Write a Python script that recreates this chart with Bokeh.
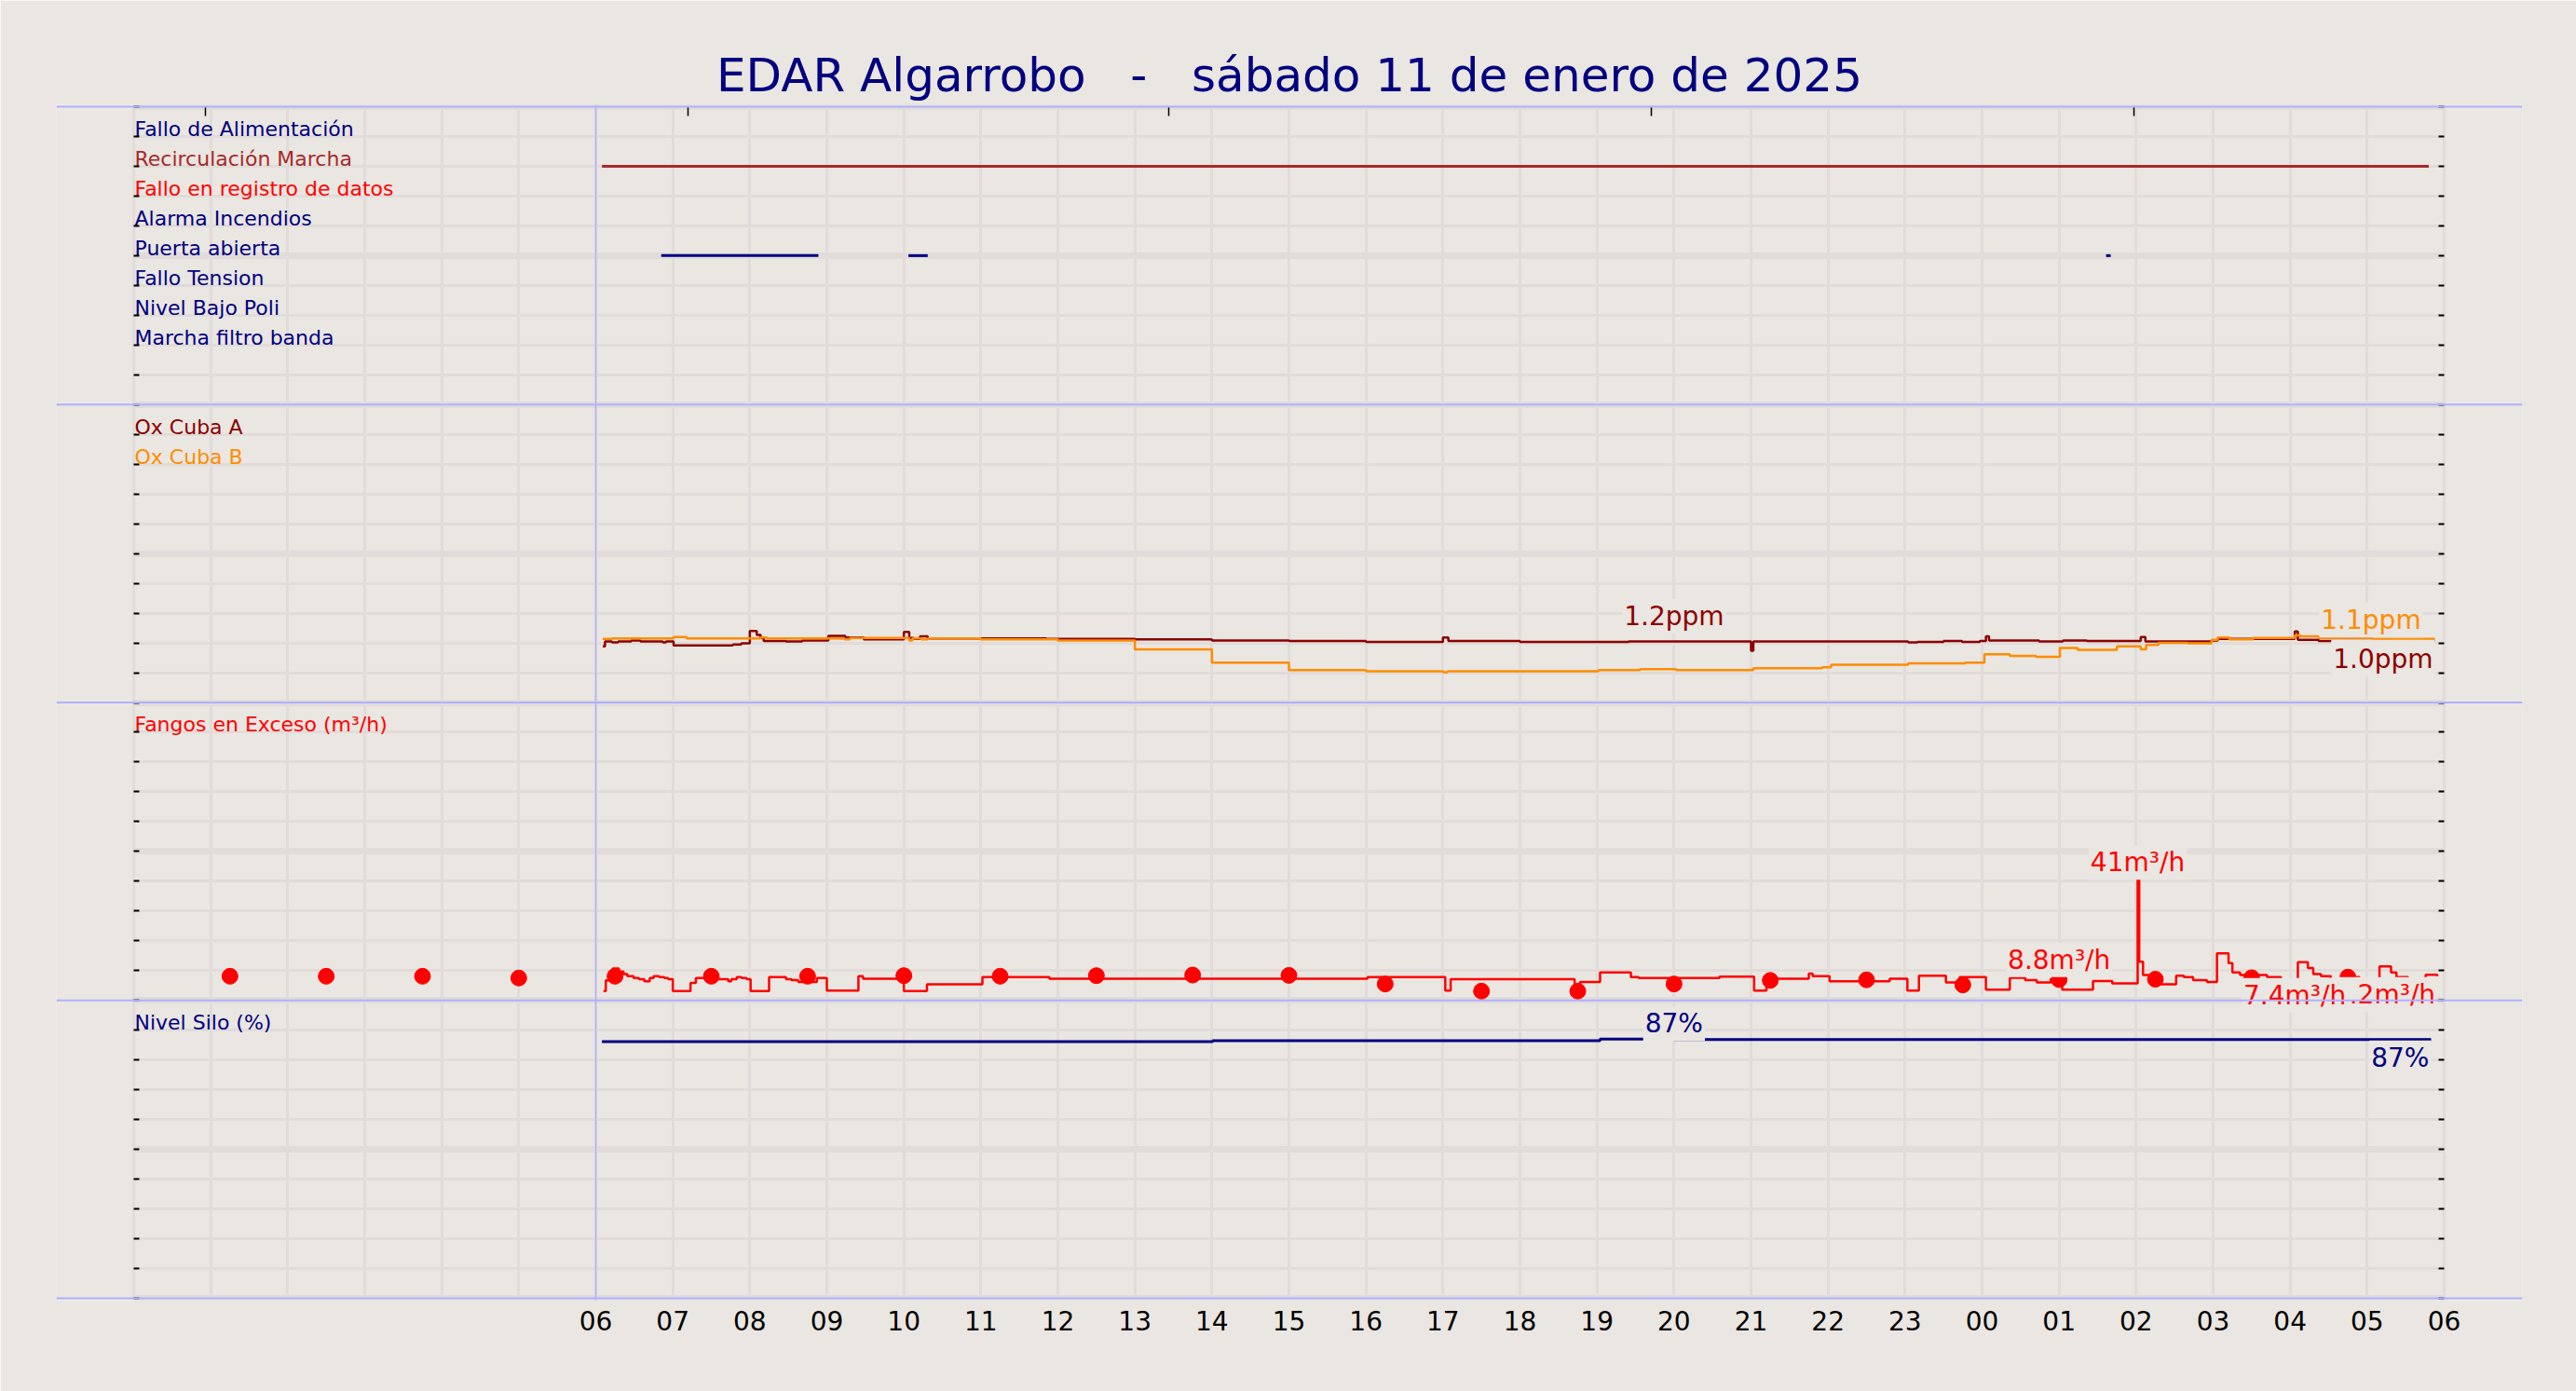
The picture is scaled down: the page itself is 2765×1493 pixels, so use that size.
import numpy as np
from bokeh.plotting import figure
from bokeh.models import Range1d, FixedTicker, LinearAxis, Grid, Span
from bokeh.core.properties import value
from bokeh.embed import file_html
from bokeh.resources import INLINE

FONT = "DejaVu Sans"
BG = "#EAE6E1"
GRID = "#E1DCDA"
SEP = "#B0B0FF"
NAVY = "#000080"

# svg collapses runs of spaces, so the wide gaps are kept with no-break spaces
TITLE = "EDAR Algarrobo \u00a0 - \u00a0 sábado 11 de enero de 2025"

# hours counted from 00:00 of 11/01, the day shown runs 06 -> 06
HOUR_TICKS = list(range(6, 31))
TOP_TICKS = [0.93, 7.2, 13.44, 19.7, 25.97]

# panel 1: digital signals
SIGNAL_NAMES = ["Fallo de Alimentación", "Recirculación Marcha", "Fallo en registro de datos",
                "Alarma Incendios", "Puerta abierta", "Fallo Tension", "Nivel Bajo Poli",
                "Marcha filtro banda"]
SIGNAL_COLORS = [NAVY, "#A52A2A", "#FF0000", NAVY, NAVY, NAVY, NAVY, NAVY]
ON_SIGNAL = ["Recirculación Marcha", "Puerta abierta", "Puerta abierta", "Puerta abierta"]
ON_START = [6.08, 6.85, 10.06, 25.61]
ON_END = [29.8, 8.89, 10.31, 25.67]

# panel 2: oxygen (ppm)
OXA_HOURS = [6.09, 6.12, 6.21, 6.29, 6.46, 6.58, 6.87, 6.91, 7.01, 7.78, 7.89, 8.00, 8.09, 8.14,
             8.18, 8.47, 8.68, 9.02, 9.24, 9.48, 10.00, 10.07, 10.13, 10.21, 10.31, 11.85, 13.0,
             14.0, 15.0, 16.0, 17.0, 17.07, 18.0, 19.41, 21.0, 21.03, 23.04, 23.16, 23.5, 23.74,
             23.97, 24.05, 24.09, 24.74, 25.05, 25.36, 26.06, 26.12, 26.98, 27.06, 28.06, 28.1,
             28.37, 29.07, 29.14, 29.88]
OXA = [1.13, 1.23, 1.21, 1.23, 1.25, 1.23, 1.21, 1.23, 1.15, 1.17, 1.19, 1.44, 1.36, 1.30,
       1.24, 1.23, 1.25, 1.34, 1.31, 1.27, 1.42, 1.30, 1.28, 1.33, 1.29, 1.28, 1.27,
       1.25, 1.24, 1.22, 1.31, 1.24, 1.22, 1.23, 1.04, 1.23, 1.21, 1.22, 1.24, 1.22,
       1.24, 1.33, 1.25, 1.23, 1.25, 1.24, 1.32, 1.23, 1.25, 1.28, 1.43, 1.26,
       1.24, 1.10, 1.24, 1.24]
OXB_HOURS = [6.09, 6.21, 7.01, 7.18, 8.14, 8.22, 9.23, 9.30, 10.07, 10.11, 10.23, 10.31, 11.0,
             12.0, 13.0, 14.0, 15.0, 16.0, 17.0, 17.06, 19.02, 19.56, 20.03, 21.03, 21.92, 22.04,
             23.04, 23.78, 24.03, 24.36, 24.70, 25.01, 25.24, 25.75, 26.06, 26.13, 26.29, 26.67,
             26.98, 27.06, 27.21, 27.52, 28.06, 28.13, 28.37, 29.07, 29.88]
OXB = [1.28, 1.29, 1.32, 1.29, 1.31, 1.29, 1.27, 1.30, 1.25, 1.29, 1.27, 1.29, 1.27,
       1.25, 1.07, 0.80, 0.65, 0.63, 0.61, 0.63, 0.65, 0.67, 0.65, 0.69, 0.71, 0.76,
       0.79, 0.80, 0.97, 0.94, 0.92, 1.10, 1.06, 1.13, 1.07, 1.16, 1.20, 1.19,
       1.26, 1.31, 1.27, 1.30, 1.35, 1.33, 1.30, 1.28, 1.28]
PPM_FULL = 6.0

# panel 3: excess sludge (m3/h)
FANGOS_HOURS = [6.10, 6.13, 6.22, 6.30, 6.36, 6.41, 6.49, 6.56, 6.63, 6.70,
                6.75, 6.82, 6.89, 6.94, 7.00, 7.23, 7.30, 7.47, 7.57, 7.72,
                7.76, 7.83, 7.89, 7.96, 8.01, 8.25, 8.47, 8.54, 8.63, 8.87,
                9.00, 9.41, 9.47, 10.00, 10.30, 11.02, 11.89, 16.02, 17.03, 17.10,
                18.71, 18.78, 19.04, 19.44, 19.54, 20.59, 21.04, 21.20, 21.75, 21.80,
                22.02, 22.80, 23.03, 23.18, 23.53, 23.71, 24.05, 24.36, 24.56, 24.71,
                24.89, 25.04, 25.44, 25.69, 26.02, 26.04, 26.09, 26.22, 26.52, 26.62,
                26.74, 26.92, 27.05, 27.20, 27.25, 27.35, 27.70, 27.88, 28.05, 28.10,
                28.23, 28.30, 28.40, 28.53, 28.68, 28.90, 29.05, 29.16, 29.31, 29.38,
                29.53, 29.73, 29.76, 29.91]
FANGOS = [3.1, 6.7, 10.7, 9.7, 8.8, 8.1, 7.5, 7.1, 6.4, 7.5,
          8.1, 7.8, 7.5, 7.1, 3.1, 5.9, 7.5, 6.8, 7.1, 6.4,
          7.1, 7.8, 7.5, 7.1, 3.1, 7.8, 7.1, 6.8, 6.2, 7.5,
          3.3, 8.1, 7.3, 3.1, 5.4, 7.8, 7.3, 7.8, 3.3, 7.1,
          3.3, 6.2, 9.4, 7.8, 7.5, 8.0, 3.3, 7.3, 9.0, 8.1,
          6.4, 7.3, 3.3, 8.3, 6.0, 7.8, 3.6, 7.6, 6.8, 6.0,
          7.1, 3.6, 6.5, 5.7, 41.0, 13.0, 8.5, 5.4, 8.3, 7.8,
          6.8, 6.2, 15.8, 12.5, 9.4, 8.5, 7.8, 7.0, 6.2, 12.8,
          10.9, 8.8, 8.1, 7.3, 7.8, 7.0, 5.7, 11.4, 9.4, 7.8,
          6.8, 6.8, 8.6, 8.1]
PUNTOS_HOURS = [1.25, 2.5, 3.75, 5.0, 6.25, 7.5, 8.75, 10.0, 11.25, 12.5, 13.75, 15.0,
                16.25, 17.5, 18.75, 20.0, 21.25, 22.5, 23.75, 25.0, 26.25, 27.5, 28.75]
PUNTOS = [8.1, 8.1, 8.1, 7.5, 8.1, 8.1, 8.1, 8.3, 8.1, 8.3, 8.5, 8.4,
          5.5, 3.1, 3.1, 5.5, 6.7, 6.9, 5.2, 7.0, 7.1, 7.6, 7.8]
M3H_FULL = 100.0

# panel 4: silo level (%)
SILO_HOURS = [6.08, 14.01, 19.04, 20.0, 29.83]
SILO = [86.2, 86.5, 87.0, 86.9, 86.9]
PCT_FULL = 100.0

# value labels: "max" = centred above the point, "last" = right aligned under the end
LABEL_TEXT = ["1.2ppm", "1.1ppm", "1.0ppm", "1.0ppm", "41m³/h", "7.2m³/h", "8.8m³/h", "7.4m³/h", "87%", "87%"]
LABEL_SERIES = ["oxa", "oxb", "oxb", "oxa", "fangos", "fangos", "puntos", "puntos", "silo", "silo"]
LABEL_KIND = ["max", "max", "last", "last", "max", "last", "max", "last", "max", "last"]
LABEL_HOUR = [20.0, 29.05, None, None, 26.02, None, 25.0, None, 20.0, None]
# gap in px between the point and the label
LABEL_GAP = [27, 19, 1, 1, 17, 1, 21, 1, 17, 1]

for a, b in [(OXA_HOURS, OXA), (OXB_HOURS, OXB), (FANGOS_HOURS, FANGOS),
             (PUNTOS_HOURS, PUNTOS), (SILO_HOURS, SILO), (ON_START, ON_END)]:
    assert len(a) == len(b)


def panel_y(vals, base, full):
    return base + np.asarray(vals, dtype=float) * 10.0 / full


SERIES = {
    "oxa": (OXA_HOURS, panel_y(OXA, 20, PPM_FULL), "#8B0000"),
    "oxb": (OXB_HOURS, panel_y(OXB, 20, PPM_FULL), "#FF8C00"),
    "fangos": (FANGOS_HOURS, panel_y(FANGOS, 10, M3H_FULL), "#FF0000"),
    "puntos": (PUNTOS_HOURS, panel_y(PUNTOS, 10, M3H_FULL), "#FF0000"),
    "silo": (SILO_HOURS, panel_y(SILO, 0, PCT_FULL), NAVY),
}

p = figure(width=2765, height=1493, title=TITLE,
           x_range=Range1d(-1.004, 31.016), y_range=Range1d(-0.0625, 40.0625),
           output_backend="svg", toolbar_location=None, y_axis_location=None,
           min_border_left=60, min_border_right=58, min_border_top=112, min_border_bottom=98,
           background_fill_color=BG, border_fill_color=BG, outline_line_color=None)
p.grid.visible = False

p.title.align = "center"
p.title.text_font = FONT
p.title.text_font_size = "50px"
p.title.text_font_style = "normal"
p.title.text_color = NAVY
p.title.standoff = 6

xa = p.xaxis[0]
xa.ticker = FixedTicker(ticks=HOUR_TICKS, minor_ticks=[])
xa.major_label_overrides = {h: "%02d" % (h % 24) for h in HOUR_TICKS}
xa.axis_line_color = None
xa.major_tick_line_color = None
xa.major_tick_in = 0
xa.major_tick_out = 0
xa.major_label_standoff = 11
xa.major_label_text_font = FONT
xa.major_label_text_font_size = "28px"
xa.major_label_text_color = "black"

# grid: one line per hour and per unit, thicker every 5 units
hours_grid = list(range(0, 31))
rows_minor = [r for r in range(0, 41) if r % 5]
rows_major = [r for r in range(0, 41) if r % 5 == 0]
if "cross_bounds" in Grid.properties():
    p.add_layout(Grid(dimension=0, ticker=FixedTicker(ticks=hours_grid), cross_bounds=(0, 40),
                      grid_line_color=GRID, grid_line_width=3))
    p.add_layout(Grid(dimension=1, ticker=FixedTicker(ticks=rows_minor), cross_bounds=(0, 30),
                      grid_line_color=GRID, grid_line_width=3))
    p.add_layout(Grid(dimension=1, ticker=FixedTicker(ticks=rows_major), cross_bounds=(0, 30),
                      grid_line_color=GRID, grid_line_width=7))
else:
    p.segment(x0=hours_grid, x1=hours_grid, y0=0, y1=40, line_color=GRID, line_width=3, level="underlay")
    p.segment(x0=0, x1=30, y0=rows_minor, y1=rows_minor, line_color=GRID, line_width=3, level="underlay")
    p.segment(x0=0, x1=30, y0=rows_major, y1=rows_major, line_color=GRID, line_width=7, level="underlay")

rows_all = list(range(0, 41))
for loc, side in [(0, "left"), (30, "right")]:
    ax = LinearAxis(fixed_location=loc, ticker=FixedTicker(ticks=rows_all, minor_ticks=[]),
                    axis_line_color=None, major_tick_in=6, major_tick_out=0,
                    major_tick_line_width=2, major_tick_line_color="black",
                    major_label_overrides={r: "" for r in rows_all},
                    major_label_text_font_size="0px")
    p.add_layout(ax, side)
top = LinearAxis(fixed_location=40, ticker=FixedTicker(ticks=TOP_TICKS, minor_ticks=[]),
                 axis_line_color=None, major_tick_in=10, major_tick_out=0,
                 major_tick_line_width=1.5, major_tick_line_color="black",
                 major_label_overrides={t: "" for t in TOP_TICKS},
                 major_label_text_font_size="0px")
p.add_layout(top, "above")

# panel 1
sig_row = {name: 39 - i for i, name in enumerate(SIGNAL_NAMES)}
sig_col = dict(zip(SIGNAL_NAMES, SIGNAL_COLORS))
p.segment(x0=ON_START, x1=ON_END, y0=[sig_row[s] for s in ON_SIGNAL], y1=[sig_row[s] for s in ON_SIGNAL],
          line_color=[sig_col[s] for s in ON_SIGNAL], line_width=3)

# panels 2-4
for key in ["oxa", "oxb", "fangos"]:
    hx, hy, col = SERIES[key]
    p.step(hx, hy, mode="after", line_color=col, line_width=2.5)
hx, hy, col = SERIES["puntos"]
p.scatter(hx, hy, size=17, fill_color=col, line_color=col)
hx, hy, col = SERIES["silo"]
p.step(hx, hy, mode="after", line_color=col, line_width=3)

# row names, sitting on their grid line
names = SIGNAL_NAMES + ["Ox Cuba A", "Ox Cuba B", "Fangos en Exceso (m³/h)", "Nivel Silo (%)"]
rows = [sig_row[n] for n in SIGNAL_NAMES] + [29, 28, 19, 9]
cols = SIGNAL_COLORS + ["#8B0000", "#FF8C00", "#FF0000", NAVY]
p.text(x=0, y=rows, text=names, text_color=cols, x_offset=1, y_offset=-8, text_font=value(FONT),
       text_font_size="22px", text_baseline="alphabetic", text_align="left")

# separators between panels and start of the day
for r in [0, 10, 20, 30, 40]:
    p.add_layout(Span(location=r, dimension="width", line_color=SEP, line_width=2))
p.add_layout(Span(location=6, dimension="height", line_color=SEP, line_width=1.5))

# value labels
for t, s, k, h, gap in zip(LABEL_TEXT, LABEL_SERIES, LABEL_KIND, LABEL_HOUR, LABEL_GAP):
    hx, hy, col = SERIES[s]
    if k == "max":
        i = max(int(np.searchsorted(hx, h, side="right")) - 1, 0)
        px, py = h, hy[i]
        kw = dict(text_align="center", text_baseline="alphabetic", y_offset=-gap)
    else:
        px, py = hx[-1], hy[-1]
        kw = dict(text_align="right", text_baseline="top", y_offset=gap)
    p.text(x=[px], y=[py], text=[t], text_color=col, text_font=value(FONT), text_font_size="28px",
           background_fill_color=BG, background_fill_alpha=1.0, padding=2, **kw)

open("out.html", "w").write(file_html(p, INLINE))
